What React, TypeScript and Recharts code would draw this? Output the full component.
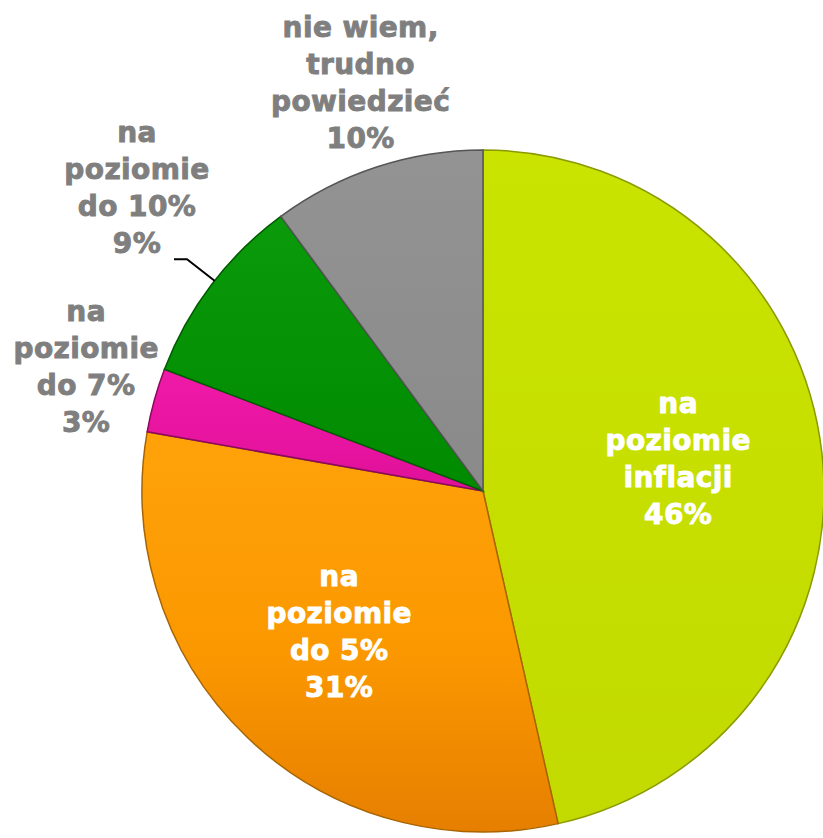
import { PieChart, Pie, Cell } from 'recharts'

const categories = [
  'na poziomie inflacji',
  'na poziomie do 5%',
  'na poziomie do 7%',
  'na poziomie do 10%',
  'nie wiem, trudno powiedzieć',
]
const values = [46, 31, 3, 9, 10]
const labelLines = [
  ['na', 'poziomie', 'inflacji'],
  ['na', 'poziomie', 'do 5%'],
  ['na', 'poziomie', 'do 7%'],
  ['na', 'poziomie', 'do 10%'],
  ['nie wiem,', 'trudno', 'powiedzieć'],
]

const fills = ['url(#gYellow)', 'url(#gOrange)', 'url(#gPink)', 'url(#gGreen)', 'url(#gGray)']
const strokes = ['#8a9a00', '#a86400', '#8a0a5c', '#005a00', '#555555']
// label placement: radius factor, angle tweak, inside/outside
const labelStyle = [
  { r: 0.58, da: 3, inside: true },
  { r: 0.59, da: -2, inside: true },
  { r: 1.22, da: -2, inside: false },
  { r: 1.35, da: -4, inside: false },
  { r: 1.25, da: -1.5, inside: false },
]

const data = categories.map((name, i) => ({ name, value: values[i] }))

const RAD = Math.PI / 180
const FONT = 'Verdana, "DejaVu Sans", sans-serif'
const LINE_H = 37

function renderLabel(props: any) {
  const { cx, cy, midAngle, outerRadius, index } = props
  const st = labelStyle[index]
  const ang = (midAngle + st.da) * RAD
  const x = cx + outerRadius * st.r * Math.cos(ang)
  const y = cy - outerRadius * st.r * Math.sin(ang)
  const lines = [...labelLines[index], `${values[index]}%`]
  const top = y - ((lines.length - 1) * LINE_H) / 2
  const color = st.inside ? '#ffffff' : '#7f7f7f'

  // leader line for the narrow green slice
  let leader = null
  if (index === 3) {
    const m = (midAngle - 0.8) * RAD
    const x1 = cx + outerRadius * Math.cos(m)
    const y1 = cy - outerRadius * Math.sin(m)
    const x2 = cx + (outerRadius + 35) * Math.cos(m)
    const y2 = cy - (outerRadius + 35) * Math.sin(m)
    leader = (
      <polyline
        points={`${x1},${y1} ${x2},${y2} ${x2 - 13},${y2}`}
        fill="none"
        stroke="#000"
        strokeWidth={2}
      />
    )
  }

  return (
    <g key={`lbl-${index}`}>
      {leader}
      <text
        x={x}
        y={top}
        fill={color}
        stroke={color}
        strokeWidth={0.9}
        textAnchor="middle"
        dominantBaseline="central"
        style={{ fontFamily: FONT, fontWeight: 700, fontSize: 28, letterSpacing: 0.4 }}
      >
        {lines.map((l, i) => (
          <tspan key={i} x={x} dy={i === 0 ? 0 : LINE_H}>
            {l}
          </tspan>
        ))}
      </text>
    </g>
  )
}

export default function App() {
  return (
    <div style={{ position: 'absolute', left: 0, top: 0, width: 823, height: 838, background: '#fff' }}>
      <PieChart width={823} height={838} margin={{ top: 0, right: 0, bottom: 0, left: 0 }}>
        <defs>
          <linearGradient id="gYellow" x1="0" y1="0" x2="0" y2="1">
            <stop offset="0%" stopColor="#cae400" />
            <stop offset="100%" stopColor="#c2da00" />
          </linearGradient>
          <linearGradient id="gOrange" x1="0" y1="0" x2="0" y2="1">
            <stop offset="0%" stopColor="#ffa20a" />
            <stop offset="55%" stopColor="#fb9800" />
            <stop offset="100%" stopColor="#e67f00" />
          </linearGradient>
          <linearGradient id="gPink" x1="0" y1="0" x2="0" y2="1">
            <stop offset="0%" stopColor="#f01aa8" />
            <stop offset="100%" stopColor="#e0109a" />
          </linearGradient>
          <linearGradient id="gGreen" x1="0" y1="0" x2="0" y2="1">
            <stop offset="0%" stopColor="#0a9a0a" />
            <stop offset="100%" stopColor="#008a00" />
          </linearGradient>
          <linearGradient id="gGray" x1="0" y1="0" x2="0" y2="1">
            <stop offset="0%" stopColor="#939393" />
            <stop offset="100%" stopColor="#8a8a8a" />
          </linearGradient>
        </defs>
        <Pie
          data={data}
          dataKey="value"
          nameKey="name"
          cx={483}
          cy={491}
          outerRadius={341}
          startAngle={90}
          endAngle={-270}
          label={renderLabel}
          labelLine={false}
          isAnimationActive={false}
        >
          {data.map((d, i) => (
            <Cell key={d.name} fill={fills[i]} stroke={strokes[i]} strokeWidth={1.5} />
          ))}
        </Pie>
      </PieChart>
    </div>
  )
}
